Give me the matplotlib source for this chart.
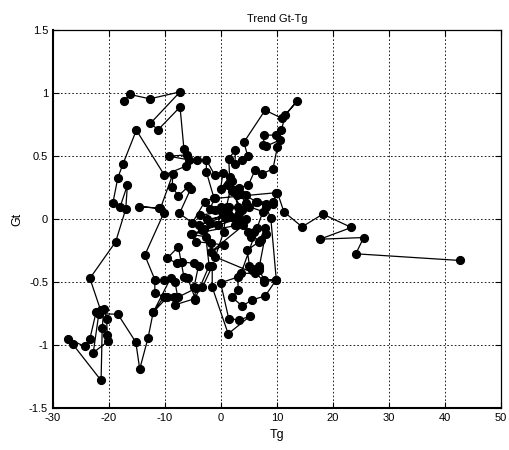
import matplotlib
matplotlib.use("Agg")
import matplotlib.pyplot as plt

plt.rcParams['font.family'] = ['Liberation Sans', 'DejaVu Sans']

# trajectory, in drawing order
tg = [-17.3, -16.3, -12.7, -7.3, -12.6, -11.2, -7.3, -6.6, -6.0, -9.3, -5.7, -4.2, -6.3, -10.1,
      -15.1, -17.5, -18.4, -19.3, -18.0, -16.7, -17.0, -18.8, -23.4, -21.5, -22.3, -23.4, -24.3,
      -27.3, -26.5, -21.4, -21.2, -20.9, -20.4, -20.3, -20.2, -22.8, -21.8, -18.4, -15.2, -14.5,
      -13.0, -12.1, -9.6, -11.8, -11.8, -13.6, -10.2, -11.1, -14.6, -10.8, -8.6, -8.7, -7.6, -5.8,
      -5.4, -7.4, -5.1, -2.9, -1.25, -2.6, -2.6, -1.1, 0.36, -0.05, 1.55, 1.4, 2.6, 2.5, 3.7, 4.8,
      4.1, 7.9, 10.9, 13.6, 11.5, 10.8, 9.8, 7.7, 7.6, 8.1, 10.5, 10.1, 9.3, 7.4, 6.1, 4.9, 3.3,
      1.3, 2.5, 2.9, 4.4, 6.3, 8.0, 9.3, 9.9, -1.1, -2.0, -1.0, 0.2, -3.7, -2.5, 0.8, -4.0, 1.2,
      2.0, -3.0, 3.0, -2.0, 4.5, 2.7, -5.2, -4.5, -1.8, 0.5, -1.8, 4.0, 4.8, 5.9, 6.5, 7.9, 6.8,
      4.7, 5.1, 6.8, 5.6, 6.8, 7.7, 9.9, 7.9, 5.6, 3.8, 2.0, 3.1, 3.0, -0.05, 1.4, 3.3, 5.2, 1.3,
      -1.55, -1.55, -3.3, -4.8, -4.0, -4.8, -7.0, -7.9, -9.6, -7.6, -6.6, -5.9, -4.6, -8.2, -8.4,
      -10.2, -12.1, -9.0, -10.2, -8.2, -7.7, -4.5, -4.7, -2.1, -2.7, -5.4, -3.4, -0.5, 0.0, 1.5,
      2.5, 3.3, 3.8, 2.0, 3.5, 4.4, 5.0, 7.5, 3.6, 6.0, -1.0, 0.5, 1.0, 2.0, 3.0, 5.3, 7.1, 8.0,
      6.8, 5.7, 7.7, 9.9, 8.9, 8.0, 6.5, 9.3, 10.1, 11.25, 14.5, 18.2, 23.3, 17.7, 25.5, 24.1, 42.7]
gt = [0.936, 0.99, 0.955, 1.01, 0.76, 0.71, 0.89, 0.555, 0.51, 0.50, 0.47, 0.47, 0.42, 0.35,
      0.706, 0.437, 0.33, 0.127, 0.098, 0.27, 0.079, -0.18, -0.47, -0.72, -0.74, -0.95, -1.01,
      -0.95, -0.99, -1.28, -0.865, -0.71, -0.79, -0.92, -0.97, -1.06, -0.75, -0.755, -0.976, -1.19,
      -0.94, -0.74, -0.62, -0.59, -0.48, -0.286, 0.048, 0.087, 0.10, 0.085, 0.357, 0.256, 0.185, 0.26,
      0.24, 0.045, -0.029, 0.137, 0.17, 0.375, 0.47, 0.35, 0.37, 0.24, 0.336, 0.48, 0.55, 0.44, 0.47, 0.50,
      0.61, 0.865, 0.80, 0.936, 0.825, 0.706, 0.667, 0.667, 0.587, 0.58, 0.627, 0.574, 0.40, 0.36, 0.39, 0.27, 0.25,
      0.27, 0.22, 0.19, 0.19, 0.137, 0.12, 0.12, 0.21, 0.164, 0.08, 0.07, 0.06, 0.03, 0.0, 0.02, -0.05, 0.05,
      0.02, -0.08, 0.0, -0.03, 0.0, -0.05, -0.12, -0.18, -0.19, -0.206, -0.26, -0.05, -0.1, -0.1, -0.07, -0.07, -0.18,
      -0.246, -0.37, -0.37, -0.40, -0.40, -0.48, -0.48, -0.61, -0.64, -0.69, -0.62, -0.56, -0.46, -0.505, -0.79, -0.80, -0.77, -0.91,
      -0.54, -0.373, -0.54, -0.54, -0.37, -0.35, -0.34, -0.35, -0.31, -0.22, -0.46, -0.47, -0.63, -0.68, -0.62,
      -0.62, -0.74, -0.47, -0.48, -0.50, -0.62, -0.55, -0.64, -0.37, -0.14, -0.12, -0.09, -0.05, 0.10, 0.10,
      -0.05, 0.05, 0.07, 0.22, 0.20, 0.125, 0.10, 0.06, -0.43, -0.43, -0.30, -0.10, 0.10, 0.30, 0.10, -0.14, -0.167, -0.114,
      -0.39, -0.40, -0.497, -0.484, 0.013, 0.098, 0.137, 0.137, 0.21, 0.058, -0.061, 0.04, -0.066, -0.159, -0.146, -0.275, -0.328]

xticks = [-30, -20, -10, 0, 10, 20, 30, 40, 50]
yticks = [-1.5, -1, -0.5, 0, 0.5, 1, 1.5]

fig = plt.figure(figsize=(5.09, 4.5), dpi=100)
ax = fig.add_axes([0.104, 0.093, 0.880, 0.840])

ax.plot(tg, gt, '-o', color='black', linewidth=0.9, markersize=5.6)

ax.set_xlim(-30, 50)
ax.set_ylim(-1.5, 1.5)
ax.set_xticks(xticks)
ax.set_yticks(yticks)
ax.set_xticklabels([str(v) for v in xticks])
ax.set_yticklabels(['-1.5', '-1', '-0.5', '0', '0.5', '1', '1.5'])
ax.grid(True, color='black', linestyle=(0, (2, 2.5)), linewidth=0.6)
ax.tick_params(direction='in', top=True, right=True, labelsize=8, length=4, width=0.8)
for s in ax.spines.values():
    s.set_linewidth(0.9)
ax.spines['left'].set_linewidth(1.5)
ax.spines['bottom'].set_linewidth(1.5)

ax.set_title('Trend Gt-Tg', fontsize=8, pad=6)
ax.set_xlabel('Tg', fontsize=9)
ax.set_ylabel('Gt', fontsize=9)

fig.savefig('out.png', dpi=100)
